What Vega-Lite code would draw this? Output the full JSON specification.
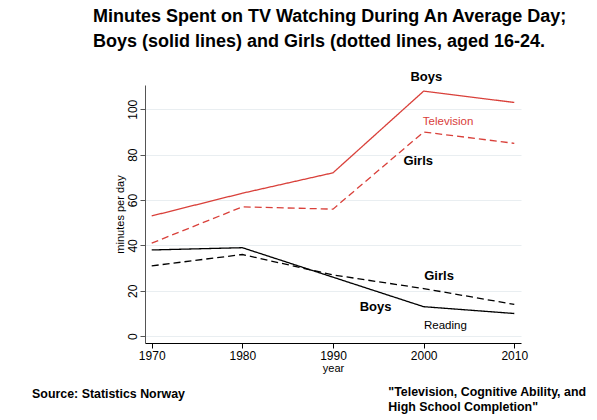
{
  "$schema": "https://vega.github.io/schema/vega-lite/v6.json",
  "autosize": {"type": "none"},
  "width": 376,
  "height": 258,
  "padding": {"left": 145, "top": 85, "right": 76, "bottom": 77},
  "background": "white",
  "config": {"view": {"stroke": null}, "font": "Liberation Sans"},
  "title": {
    "text": ["Minutes Spent on TV Watching During An Average Day;", "Boys (solid lines) and Girls (dotted lines, aged 16-24."],
    "font": "Liberation Sans",
    "fontSize": 18,
    "fontWeight": "bold",
    "color": "black",
    "anchor": "start",
    "frame": "group",
    "dx": -52,
    "offset": 20,
    "lineHeight": 25
  },
  "datasets": {
    "series": [
      {"year": 1970, "minutes": 53, "series": "Boys TV"},
      {"year": 1980, "minutes": 63, "series": "Boys TV"},
      {"year": 1990, "minutes": 72, "series": "Boys TV"},
      {"year": 2000, "minutes": 108, "series": "Boys TV"},
      {"year": 2010, "minutes": 103, "series": "Boys TV"},
      {"year": 1970, "minutes": 41, "series": "Girls TV"},
      {"year": 1980, "minutes": 57, "series": "Girls TV"},
      {"year": 1990, "minutes": 56, "series": "Girls TV"},
      {"year": 2000, "minutes": 90, "series": "Girls TV"},
      {"year": 2010, "minutes": 85, "series": "Girls TV"},
      {"year": 1970, "minutes": 38, "series": "Boys Reading"},
      {"year": 1980, "minutes": 39, "series": "Boys Reading"},
      {"year": 1990, "minutes": 26, "series": "Boys Reading"},
      {"year": 2000, "minutes": 13, "series": "Boys Reading"},
      {"year": 2010, "minutes": 10, "series": "Boys Reading"},
      {"year": 1970, "minutes": 31, "series": "Girls Reading"},
      {"year": 1980, "minutes": 36, "series": "Girls Reading"},
      {"year": 1990, "minutes": 27, "series": "Girls Reading"},
      {"year": 2000, "minutes": 21, "series": "Girls Reading"},
      {"year": 2010, "minutes": 14, "series": "Girls Reading"}
    ],
    "boldLabels": [
      {"year": 2000.3, "minutes": 114.1, "label": "Boys"},
      {"year": 1999.4, "minutes": 77.4, "label": "Girls"},
      {"year": 2001.7, "minutes": 26.4, "label": "Girls"},
      {"year": 1994.7, "minutes": 12.8, "label": "Boys"}
    ],
    "redLabels": [
      {"year": 2002.7, "minutes": 94.3, "label": "Television"}
    ],
    "plainLabels": [
      {"year": 2002.4, "minutes": 4.7, "label": "Reading"}
    ],
    "footer": [
      {"year": 1956.8, "minutes": -25.4, "label": "Source: Statistics Norway"},
      {"year": 1996.1, "minutes": -24.8, "label": "\"Television, Cognitive Ability, and"},
      {"year": 1996.1, "minutes": -31.4, "label": "High School Completion\""}
    ]
  },
  "encoding": {
    "x": {
      "field": "year", "type": "quantitative",
      "scale": {"domain": [1969.26, 2010.74], "nice": false, "zero": false},
      "axis": {
        "values": [1970, 1980, 1990, 2000, 2010], "format": "d", "title": "year",
        "grid": false, "domainColor": "black", "tickColor": "black", "tickSize": 5,
        "labelFontSize": 12, "labelColor": "black", "labelPadding": 2,
        "titleFontSize": 11, "titleFontWeight": "normal", "titleColor": "black", "titlePadding": 1,
        "labelFont": "Liberation Sans", "titleFont": "Liberation Sans"
      }
    },
    "y": {
      "field": "minutes", "type": "quantitative",
      "scale": {"domain": [-3, 110.7], "nice": false, "zero": false},
      "axis": {
        "values": [0, 20, 40, 60, 80, 100], "title": "minutes per day",
        "grid": true, "gridColor": "#e9eef1", "gridWidth": 1,
        "domainColor": "#555555", "tickColor": "#555555", "tickSize": 5,
        "labelAngle": -90, "labelAlign": "center", "labelBaseline": "bottom",
        "labelFontSize": 12, "labelColor": "black", "labelPadding": 1,
        "titleFontSize": 11, "titleFontWeight": "normal", "titleColor": "black", "titlePadding": 1,
        "labelFont": "Liberation Sans", "titleFont": "Liberation Sans"
      }
    }
  },
  "layer": [
    {
      "data": {"name": "series"},
      "mark": {"type": "line", "strokeWidth": 1.3},
      "encoding": {
        "detail": {"field": "series"},
        "color": {
          "field": "series", "type": "nominal", "legend": null,
          "scale": {"domain": ["Boys TV", "Girls TV", "Boys Reading", "Girls Reading"], "range": ["#d9403a", "#d9403a", "black", "black"]}
        },
        "strokeDash": {
          "field": "series", "type": "nominal", "legend": null,
          "scale": {"domain": ["Boys TV", "Girls TV", "Boys Reading", "Girls Reading"], "range": [[1, 0], [7, 4], [1, 0], [7, 4]]}
        }
      }
    },
    {
      "data": {"name": "boldLabels"},
      "mark": {"type": "text", "fontSize": 13, "fontWeight": "bold", "color": "black", "baseline": "middle", "font": "Liberation Sans"},
      "encoding": {"text": {"field": "label"}}
    },
    {
      "data": {"name": "redLabels"},
      "mark": {"type": "text", "fontSize": 11.5, "color": "#d9403a", "baseline": "middle", "font": "Liberation Sans"},
      "encoding": {"text": {"field": "label"}}
    },
    {
      "data": {"name": "plainLabels"},
      "mark": {"type": "text", "fontSize": 11.5, "color": "black", "baseline": "middle", "font": "Liberation Sans"},
      "encoding": {"text": {"field": "label"}}
    },
    {
      "data": {"name": "footer"},
      "mark": {"type": "text", "fontSize": 12.4, "fontWeight": "bold", "color": "black", "align": "left", "baseline": "middle", "font": "Liberation Sans"},
      "encoding": {"text": {"field": "label"}}
    }
  ]
}
